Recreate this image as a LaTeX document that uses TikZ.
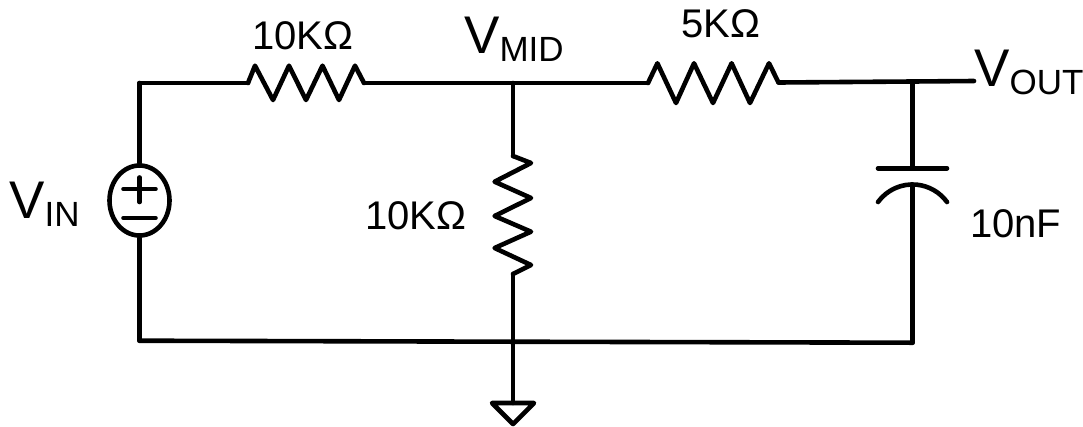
\documentclass[tikz,border=0pt]{standalone}
\usepackage{fontspec}
\setmainfont{Liberation Sans}
\usetikzlibrary{shapes,positioning}

\newcommand{\biglabel}[1]{{\fontsize{53}{60}\selectfont V\raisebox{-8pt}{\fontsize{35}{40}\selectfont #1}}}

\begin{document}
\begin{tikzpicture}[
    x=1pt, y=-1pt,
    wire/.style={draw, line width=4.6pt, line cap=round, line join=round},
    valtext/.style={inner sep=0pt, anchor=base west, font=\fontsize{40}{46}\selectfont},
    vtext/.style={inner sep=0pt, anchor=base west},
    source/.style={ellipse, draw, line width=4.6pt, inner sep=0pt, minimum width=60pt, minimum height=70pt}
]
\useasboundingbox (0,0) rectangle (1083,426);

\node[source] (vin) at (139.5,200.5) {};
\coordinate (topleft) at (139.5,83);
\coordinate (botleft) at (139.5,340.7);
\coordinate (r1a) at (248,83);
\coordinate (r1b) at (364,83);
\coordinate (mid) at (513,83);
\coordinate (r2a) at (648,83);
\coordinate (r2b) at (778.5,82.5);
\coordinate (outjoin) at (912.5,81.5);
\coordinate (outend) at (974,81);
\coordinate (r3a) at (513,156);
\coordinate (r3b) at (513,274);
\coordinate (botmid) at (513,341.7);
\coordinate (botright) at (912.5,342.7);
\coordinate (gnd) at (513,403);
\coordinate (plate) at (912.5,168.3);
\coordinate (curve) at (912.5,184.5);

\node[vtext] (vinlabel) at (9,218) {\biglabel{IN}};
\node[vtext] (midlabel) at (464,53) {\biglabel{MID}};
\node[vtext] (outlabel) at (974,86) {\biglabel{OUT}};
\node[valtext] (r1label) at (252,49) {10KΩ};
\node[valtext] (r2label) at (681.5,37) {5KΩ};
\node[valtext] (r3label) at (365,229) {10KΩ};
\node[valtext] (clabel) at (970,237) {10nF};

% source
\draw[wire] (topleft) -- (vin.north);
\draw[wire] (vin.south) -- (botleft);
\draw[wire] ([shift={(-16,-11.5)}]vin.center) -- ([shift={(16,-11.5)}]vin.center);
\draw[wire] ([shift={(0,-23)}]vin.center) -- ([shift={(0,1.5)}]vin.center);
\draw[wire] ([shift={(-16,17.5)}]vin.center) -- ([shift={(16,17.5)}]vin.center);

% top rail
\draw[wire] (topleft) -- (r1a);
\draw[wire] (r1a) -- ++(7,-17.3) -- ++(18,34.3) -- ++(16,-34.3) -- ++(17,34.3)
    -- ++(16.5,-34.3) -- ++(16.5,34.3) -- ++(16,-34.3) -- (r1b);
\draw[wire] (r1b) -- (mid);
\draw[wire] (mid) -- (r2a);
\draw[wire] (r2a) -- ++(9.4,-19.7) -- ++(18.6,39.7) -- ++(18,-39.7) -- ++(19,39.7)
    -- ++(18.6,-39.7) -- ++(18.4,39.7) -- ++(19,-39.7) -- (r2b);
\draw[wire] (r2b) -- (outjoin);
\draw[wire] (outjoin) -- (outend);

% middle branch
\draw[wire] (mid) -- (r3a);
\draw[wire] (r3a) -- ++(18,7) -- ++(-36.4,18.7) -- ++(36.4,16.3) -- ++(-36.4,18)
    -- ++(36.4,15.7) -- ++(-36.4,16.3) -- ++(36.4,17) -- (r3b);
\draw[wire] (r3b) -- (botmid);
\draw[wire] (botmid) -- (gnd);
\draw[wire] (gnd) -- ++(-21,0) -- ++(21,21) -- ++(21,-21) -- cycle;

% capacitor
\draw[wire] (outjoin) -- (plate);
\draw[wire] ([xshift=-34.5pt]plate) -- ([xshift=34.5pt]plate);
\draw[wire] ([shift={(-34.5,17.5)}]curve) arc[start angle=143.9, end angle=36.1, radius=42.7pt];
\draw[wire] (curve) -- (botright);

% bottom rail
\draw[wire] (botleft) -- (botmid);
\draw[wire] (botmid) -- (botright);

\end{tikzpicture}
\end{document}
